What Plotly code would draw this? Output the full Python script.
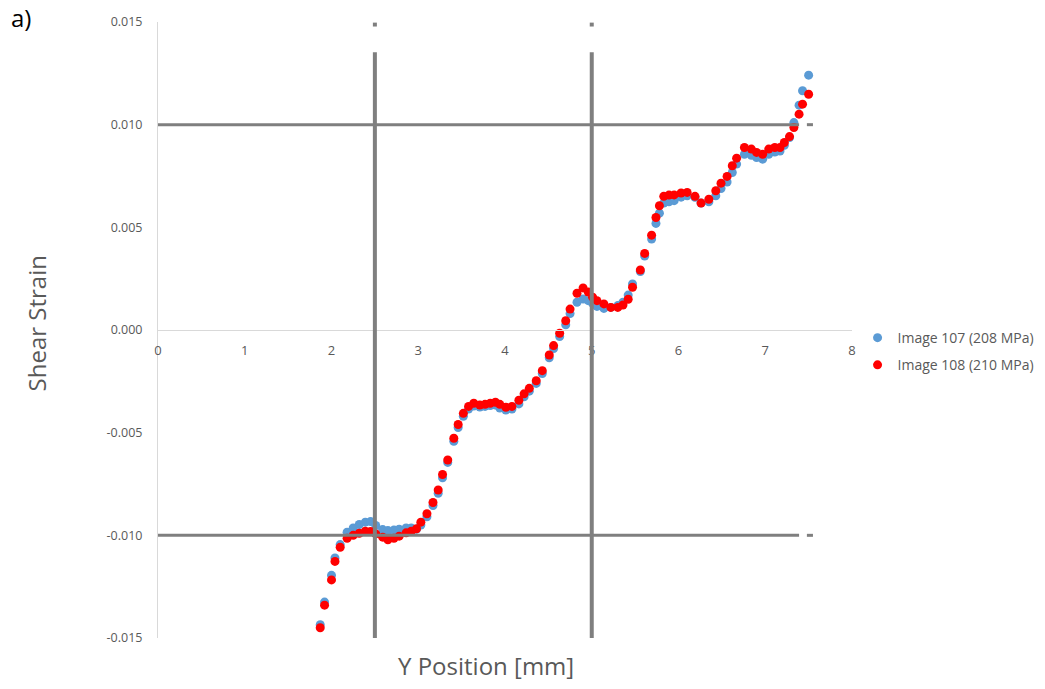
import plotly.graph_objects as go

# Y position along the specimen [mm]
y_position = [1.87, 1.92, 2.00, 2.04, 2.10, 2.18, 2.25, 2.32, 2.39, 2.45,
              2.51, 2.59, 2.65, 2.72, 2.78, 2.86, 2.92, 2.98, 3.03, 3.10,
              3.17, 3.23, 3.28, 3.34, 3.41, 3.46, 3.52, 3.58, 3.64, 3.71,
              3.77, 3.83, 3.89, 3.94, 4.01, 4.08, 4.16, 4.22, 4.28, 4.36,
              4.43, 4.51, 4.56, 4.63, 4.70, 4.75, 4.83, 4.90, 4.96, 5.01,
              5.06, 5.14, 5.22, 5.30, 5.36, 5.42, 5.47, 5.56, 5.61, 5.69,
              5.74, 5.78, 5.83, 5.89, 5.95, 6.03, 6.10, 6.19, 6.26, 6.35,
              6.43, 6.49, 6.56, 6.62, 6.67, 6.76, 6.84, 6.90, 6.97, 7.04,
              7.11, 7.17, 7.22, 7.28, 7.33, 7.39, 7.43, 7.50]

# Shear strain, image 107 (208 MPa), in units of 1e-3
strain_107 = [-14.35, -13.25, -11.95, -11.10, -10.45, -9.85, -9.64, -9.47, -9.36, -9.33,
              -9.52, -9.72, -9.77, -9.74, -9.70, -9.64, -9.64, -9.70, -9.50, -9.10,
              -8.55, -7.95, -7.20, -6.45, -5.42, -4.75, -4.20, -3.85, -3.70, -3.75,
              -3.72, -3.68, -3.65, -3.80, -3.90, -3.85, -3.60, -3.25, -2.98, -2.60,
              -2.12, -1.35, -0.90, -0.32, 0.25, 0.80, 1.35, 1.51, 1.43, 1.30,
              1.15, 1.05, 1.10, 1.19, 1.35, 1.70, 2.24, 2.85, 3.60, 4.43,
              5.19, 5.69, 6.18, 6.24, 6.30, 6.47, 6.54, 6.46, 6.18, 6.24,
              6.54, 6.89, 7.21, 7.67, 8.08, 8.56, 8.51, 8.40, 8.32, 8.56,
              8.67, 8.72, 9.00, 9.37, 10.10, 10.95, 11.65, 12.41]

# Shear strain, image 108 (210 MPa), in units of 1e-3
strain_108 = [-14.50, -13.40, -12.17, -11.27, -10.58, -10.14, -10.00, -9.90, -9.80, -9.81,
              -9.93, -10.09, -10.22, -10.14, -10.04, -9.88, -9.80, -9.68, -9.36, -8.95,
              -8.40, -7.79, -7.04, -6.33, -5.27, -4.60, -4.06, -3.72, -3.57, -3.65,
              -3.62, -3.57, -3.52, -3.62, -3.76, -3.72, -3.42, -3.11, -2.84, -2.47,
              -1.98, -1.22, -0.76, -0.16, 0.45, 1.02, 1.79, 2.05, 1.85, 1.60,
              1.43, 1.27, 1.10, 1.10, 1.22, 1.50, 2.08, 2.92, 3.73, 4.62,
              5.48, 6.05, 6.51, 6.57, 6.58, 6.67, 6.70, 6.51, 6.18, 6.37,
              6.78, 7.15, 7.48, 8.00, 8.37, 8.89, 8.81, 8.65, 8.56, 8.81,
              8.89, 8.89, 9.13, 9.42, 9.86, 10.51, 11.00, 11.48]

x_ticks = [0, 1, 2, 3, 4, 5, 6, 7, 8]
y_ticks = [0.015, 0.010, 0.005, 0.0, -0.005, -0.010, -0.015]
y_tick_labels = ["0.015", "0.010", "0.005", "0.000", "-0.005", "-0.010", "-0.015"]

# Reference lines (grip / zone boundaries)
vertical_marks = [2.5, 5.0]
horizontal_marks = [0.010, -0.010]

GREY_TEXT = "#595959"
AXIS_LINE = "#D9D9D9"
MARK_LINE = "#7F7F7F"

fig = go.Figure()
fig.add_trace(go.Scatter(
    x=y_position, y=[v / 1000 for v in strain_107], mode="markers",
    name="Image 107 (208 MPa)", legendgroup="a",
    marker=dict(color="#5B9BD5", size=9, line=dict(width=0)),
))
fig.add_trace(go.Scatter(
    x=y_position, y=[v / 1000 for v in strain_108], mode="markers",
    name="Image 108 (210 MPa)", legendgroup="b",
    marker=dict(color="#FF0000", size=9, line=dict(width=0)),
))

shapes = []
for xv in vertical_marks:
    shapes.append(dict(type="line", xref="x", yref="y", x0=xv, x1=xv,
                       y0=0.01353, y1=-0.01504, layer="above",
                       line=dict(color=MARK_LINE, width=4)))
    shapes.append(dict(type="line", xref="x", yref="y", x0=xv, x1=xv,
                       y0=0.01478, y1=0.01497, layer="above",
                       line=dict(color=MARK_LINE, width=4)))
for yv in horizontal_marks:
    shapes.append(dict(type="line", xref="x", yref="y", x0=0, x1=7.39,
                       y0=yv, y1=yv, layer="above",
                       line=dict(color=MARK_LINE, width=3)))
    shapes.append(dict(type="line", xref="x", yref="y", x0=7.48, x1=7.55,
                       y0=yv, y1=yv, layer="above",
                       line=dict(color=MARK_LINE, width=3)))

fig.update_layout(
    width=1045, height=689,
    margin=dict(l=158, r=193, t=22, b=51, autoexpand=False),
    paper_bgcolor="white", plot_bgcolor="white",
    font=dict(family="Open Sans, Calibri, sans-serif", color=GREY_TEXT),
    showlegend=True,
    legend=dict(x=1.008, y=0.465, xanchor="left", yanchor="middle",
                font=dict(size=14, color=GREY_TEXT), traceorder="grouped",
                tracegroupgap=6, itemsizing="trace", itemwidth=30,
                bgcolor="rgba(0,0,0,0)"),
    shapes=shapes,
    annotations=[
        dict(text="a)", xref="paper", yref="paper", x=-0.215, y=1.007,
             xanchor="left", yanchor="middle", showarrow=False,
             font=dict(size=24, color="black")),
        dict(text="Y Position [mm]", xref="paper", yref="paper", x=0.472, y=-0.044,
             xanchor="center", yanchor="middle", showarrow=False,
             font=dict(size=24, color=GREY_TEXT)),
        dict(text="Shear Strain", xref="paper", yref="paper", x=-0.175, y=0.51,
             xanchor="center", yanchor="middle", showarrow=False, textangle=-90,
             font=dict(size=24, color=GREY_TEXT)),
    ],
)

fig.update_xaxes(range=[0, 8], tickvals=x_ticks, ticktext=[str(t) for t in x_ticks],
                 anchor="free", position=0.5, showgrid=False, zeroline=False,
                 showline=True, linecolor=AXIS_LINE, linewidth=1,
                 ticks="", ticklabelstandoff=8,
                 tickfont=dict(size=13, color=GREY_TEXT))
fig.update_yaxes(range=[-0.015, 0.015], tickvals=y_ticks, ticktext=y_tick_labels,
                 showgrid=False, zeroline=False, showline=True,
                 linecolor=AXIS_LINE, linewidth=1, ticks="",
                 ticklabelstandoff=12,
                 tickfont=dict(size=12.5, color=GREY_TEXT))

fig.write_html("out.html")
